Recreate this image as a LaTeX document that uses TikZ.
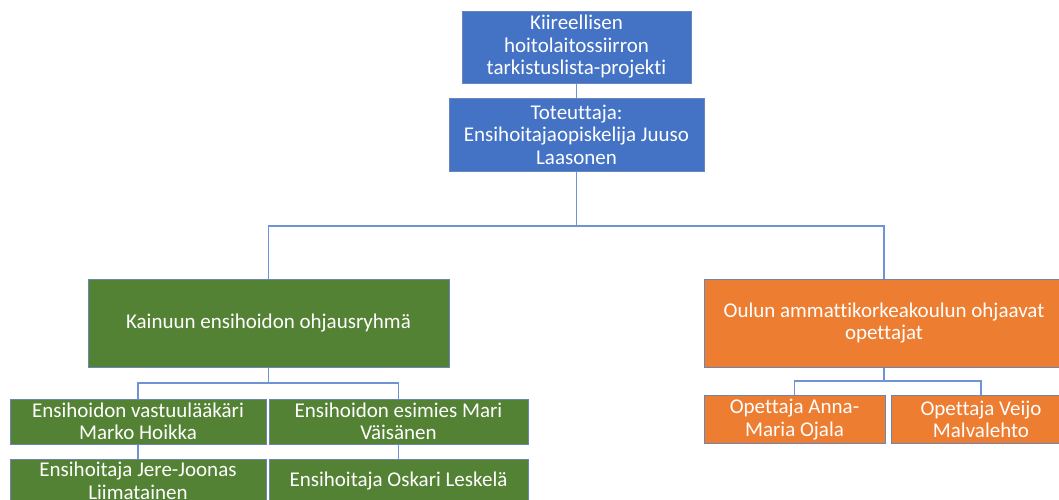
\documentclass[tikz,border=0pt]{standalone}
\usepackage{fontspec}
\setmainfont{Carlito}[Ligatures={NoCommon}]
\definecolor{cblue}{HTML}{4472C4}
\definecolor{cgreen}{HTML}{548235}
\definecolor{corange}{HTML}{ED7D31}
\definecolor{cedge}{HTML}{6A86B8}
\definecolor{cline}{HTML}{6F93D5}
\begin{document}
\begin{tikzpicture}[x=1pt,y=-1pt,
  box/.style={draw=cedge,line width=1pt,text=white,align=center,inner sep=0pt,
    font=\fontsize{21}{22.5}\selectfont},
  bluebox/.style={box,fill=cblue},
  greenbox/.style={box,fill=cgreen},
  orangebox/.style={box,fill=corange},
  conn/.style={draw=cline,line width=1.3pt}]
\useasboundingbox (0,0) rectangle (1059,499);
\clip (0,0) rectangle (1059,499);
\fill[white] (0,0) rectangle (1059,499);
\node[bluebox,minimum width=229pt,minimum height=72pt] (top) at (576.5,47) {Kiireellisen\\hoitolaitossiirron\\tarkistuslista-projekti};
\node[bluebox,minimum width=255pt,minimum height=73pt] (impl) at (576.5,134.5) {Toteuttaja:\\Ensihoitajaopiskelija Juuso\\Laasonen};
\node[greenbox,minimum width=361pt,minimum height=88pt] (green) at (268.5,323) {Kainuun ensihoidon ohjausryhmä};
\node[orangebox,minimum width=360pt,minimum height=88pt] (orange) at (884,323) {Oulun ammattikorkeakoulun ohjaavat\\opettajat};
\node[greenbox,minimum width=256pt,minimum height=45pt] (A) at (138,421.5) {Ensihoidon vastuulääkäri\\Marko Hoikka};
\node[greenbox,minimum width=259pt,minimum height=45pt] (B) at (398.5,421.5) {Ensihoidon esimies Mari\\Väisänen};
\node[greenbox,minimum width=256pt,minimum height=44pt] (C) at (138,481) {Ensihoitaja Jere-Joonas\\Liimatainen};
\node[greenbox,minimum width=259pt,minimum height=44pt] (D) at (398.5,481) {Ensihoitaja Oskari Leskelä};
\node[orangebox,minimum width=181pt,minimum height=48pt] (E) at (794.5,419.5) {Opettaja Anna-\\Maria Ojala};
\node[orangebox,minimum width=180pt,minimum height=48pt] (F) at (981,419.5) {Opettaja Veijo\\Malvalehto};
\coordinate (j1) at (576.5,226);
\coordinate (j2) at (268.5,383);
\coordinate (j3) at (884,381);
\draw[conn] (top.south) -- (impl.north);
\draw[conn] (impl.south) -- (j1);
\draw[conn] (green.north) |- (j1) -| (orange.north);
\draw[conn] (green.south) -- (j2);
\draw[conn] (A.north) |- (j2) -| (B.north);
\draw[conn] (A.south) -- (C.north);
\draw[conn] (B.south) -- (D.north);
\draw[conn] (orange.south) -- (j3);
\draw[conn] (E.north) |- (j3) -| (F.north);
\end{tikzpicture}
\end{document}
